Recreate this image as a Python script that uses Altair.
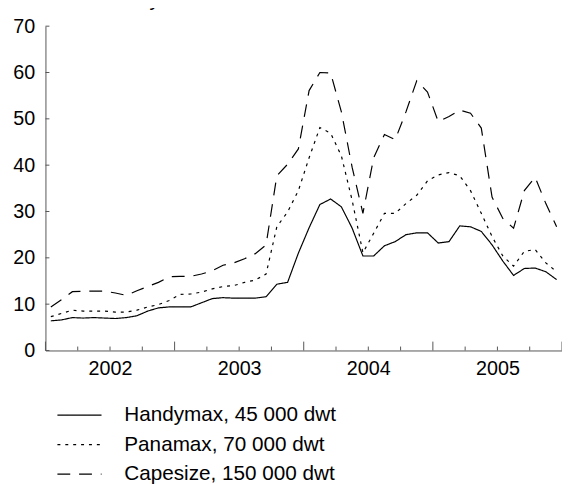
import altair as alt
import pandas as pd

# ---- data (monthly, Jan 2002 - Dec 2005) ----
start_year = 2002
years = [2002, 2003, 2004, 2005]
series_names = ["Handymax, 45 000 dwt", "Panamax, 70 000 dwt", "Capesize, 150 000 dwt"]

handymax = [6.4, 6.6, 7.1, 7.0, 7.1, 7.0, 6.9, 7.1, 7.5, 8.5, 9.2, 9.4,
            9.4, 9.4, 10.3, 11.2, 11.4, 11.3, 11.3, 11.3, 11.6, 14.3, 14.7, 21.0,
            26.5, 31.5, 32.7, 31.0, 26.4, 20.4, 20.4, 22.6, 23.5, 25.0, 25.4, 25.4,
            23.2, 23.5, 26.9, 26.7, 25.7, 22.8, 19.3, 16.2, 17.7, 17.8, 17.0, 15.3]
panamax = [7.3, 8.0, 8.7, 8.5, 8.5, 8.5, 8.3, 8.3, 8.7, 9.4, 9.9, 10.8,
           12.1, 12.2, 12.6, 13.3, 13.8, 14.0, 14.7, 15.2, 16.5, 26.7, 29.9, 34.5,
           41.6, 48.1, 46.9, 42.0, 32.4, 21.1, 25.3, 29.6, 29.6, 31.7, 33.5, 36.6,
           37.9, 38.4, 37.7, 34.5, 29.6, 24.6, 20.4, 18.2, 21.4, 21.8, 18.9, 17.0]
capesize = [9.4, 11.0, 12.7, 12.8, 12.8, 12.8, 12.4, 11.9, 12.9, 13.8, 14.7, 15.9,
            16.0, 16.0, 16.5, 17.2, 18.4, 18.9, 19.8, 20.9, 22.8, 37.7, 40.2, 43.5,
            56.1, 60.0, 59.9, 51.5, 39.5, 29.6, 41.6, 46.6, 45.5, 51.5, 58.2, 55.8,
            49.4, 50.5, 51.9, 51.2, 48.0, 33.1, 28.5, 26.4, 34.5, 37.4, 31.7, 26.7]

y_ticks = [0, 10, 20, 30, 40, 50, 60, 70]
y_title = "1000 USD/day"

rows = []
for name, vals in zip(series_names, [handymax, panamax, capesize]):
    for i, v in enumerate(vals):
        rows.append({"t": start_year + (i + 0.5) / 12, "value": v, "series": name})
df = pd.DataFrame(rows)

year_mid = [y + 0.5 for y in years]
year_edges = years + [years[-1] + 1]
quarters = [y + q / 4 for y in years for q in (1, 2, 3)]

W, H = 524, 329
FONT = "Liberation Sans"
x_scale = alt.Scale(domain=[year_edges[0], year_edges[-1]], nice=False, zero=False)
y_scale = alt.Scale(domain=[0, 70], nice=False)

x_axis = alt.Axis(values=year_mid, labelExpr="floor(datum.value)", ticks=False,
                  grid=False, title=None, labelPadding=8)
y_axis = alt.Axis(values=y_ticks, ticks=False, grid=False, labelPadding=11,
                  title=y_title, titleAngle=0, titleAlign="left",
                  titleBaseline="alphabetic", titleX=-21, titleY=-21,
                  titleFontSize=21, titleFontWeight="normal", titleFont=FONT)

lines = alt.Chart(df).mark_line(color="black", strokeWidth=1.2).encode(
    x=alt.X("t:Q", scale=x_scale, axis=x_axis),
    y=alt.Y("value:Q", scale=y_scale, axis=y_axis),
    strokeDash=alt.StrokeDash(
        "series:N",
        scale=alt.Scale(domain=series_names, range=[[1, 0], [3, 5], [13, 9]]),
        legend=alt.Legend(orient="none", legendX=24, legendY=384, title=None,
                          symbolType="M-4,0H4", symbolSize=125, symbolStrokeWidth=1.2,
                          symbolStrokeColor="black", symbolFillColor="transparent",
                          labelFontSize=21, labelFont=FONT,
                          labelColor="black", labelOffset=35, rowPadding=8, labelLimit=400),
    ),
    detail="series:N",
)

minor_ticks = alt.Chart(pd.DataFrame({"t": quarters})).mark_rule(color="#555").encode(
    x=alt.X("t:Q", scale=x_scale, axis=x_axis),
    y=alt.value(H), y2=alt.value(H - 4))

major_ticks = alt.Chart(pd.DataFrame({"t": year_edges})).mark_rule(color="#555").encode(
    x=alt.X("t:Q", scale=x_scale, axis=x_axis),
    y=alt.value(H), y2=alt.value(H - 9))

y_tick_marks = alt.Chart(pd.DataFrame({"value": y_ticks})).mark_rule(color="#555").encode(
    y=alt.Y("value:Q", scale=y_scale, axis=y_axis),
    x=alt.value(0), x2=alt.value(4))

chart = alt.layer(lines, minor_ticks, major_ticks, y_tick_marks).properties(
    width=W, height=H,
    autosize=alt.AutoSizeParams(type="none"),
    padding={"left": 38, "top": 15, "right": 0, "bottom": 132},
).configure_axis(
    domainColor="#555", labelFont=FONT, labelFontSize=20, labelColor="black",
).configure_view(strokeOpacity=0)

chart.save("out.html", embed_options={"renderer": "svg", "actions": False})
